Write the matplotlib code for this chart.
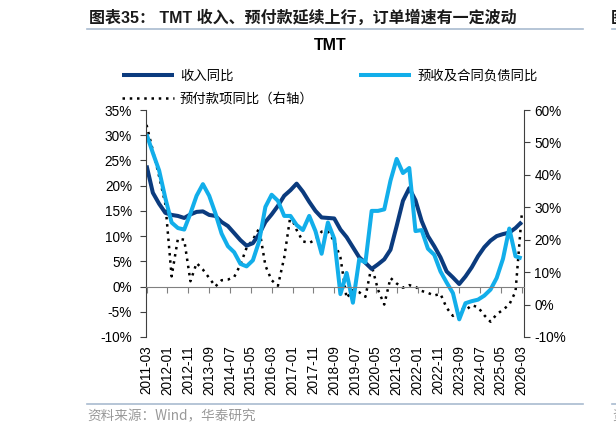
import matplotlib.pyplot as plt
import matplotlib.dates as mdates
from matplotlib.lines import Line2D
import pandas as pd

plt.rcParams['font.family'] = ['Liberation Sans', 'Noto Sans CJK SC', 'DejaVu Sans']

# 季度数据 2011-03 ~ 2026-03
dates = pd.date_range('2011-03-01', '2026-03-01', freq='3MS')

# 收入同比 (%)
revenue = [24.0, 18.6, 16.4, 14.6, 14.2, 14.0, 13.6, 14.3, 14.8, 14.9,
           14.2, 14.0, 12.8, 12.0, 10.6, 9.2, 8.1, 8.6, 10.4, 12.8,
           14.3, 16.0, 18.0, 19.1, 20.4, 18.8, 16.8, 15.0, 13.7, 13.6,
           13.5, 11.3, 9.8, 7.8, 5.8, 4.7, 3.5, 4.4, 5.4, 7.3,
           12.0, 17.0, 19.5, 17.1, 13.0, 10.0, 8.0, 5.8, 3.0, 1.8,
           0.5, 2.0, 3.8, 6.0, 7.8, 9.1, 10.0, 10.4, 10.7, 11.6,
           12.8]

# 预收及合同负债同比 (%)
contract = [30.2, 26.5, 23.0, 17.5, 12.7, 11.6, 11.3, 14.5, 18.0, 20.3,
            18.0, 14.5, 10.5, 8.0, 6.8, 4.5, 4.0, 5.2, 9.0, 15.8,
            18.2, 17.0, 14.0, 14.0, 12.2, 11.2, 14.0, 11.0, 6.5, 12.7,
            9.5, -1.5, 2.7, -3.2, 5.4, 4.8, 15.0, 15.0, 15.3, 21.0,
            25.3, 22.5, 23.5, 11.0, 11.2, 7.5, 6.3, 3.0, 0.8, -1.3,
            -6.5, -3.3, -2.9, -2.6, -1.8, -0.6, 1.7, 5.5, 11.5, 6.0,
            5.6]

# 预付款项同比 (%, 右轴)
prepay = [55.4, 47.5, 39.5, 31.0, 8.7, 20.3, 20.0, 7.2, 12.8, 10.8,
          8.2, 5.6, 7.5, 7.7, 8.5, 12.3, 17.5, 20.0, 23.5, 12.0,
          7.5, 5.8, 14.5, 27.5, 23.0, 19.5, 19.0, 20.0, 22.5, 22.5,
          19.5, 14.5, 2.0, 4.5, 3.8, 2.4, 12.0, 4.6, 0.0, 8.2,
          6.5, 5.2, 6.0, 5.5, 4.2, 3.6, 2.8, 3.3, -1.0, -3.5,
          -1.0, -1.8, -0.2, -0.8, -3.3, -5.3, -3.0, -1.6, 0.0, 4.0,
          27.5]

tick_dates = pd.date_range('2011-03-01', '2026-03-01', freq='10MS')
tick_labels = [d.strftime('%Y-%m') for d in tick_dates]
left_ticks = list(range(-10, 36, 5))
right_ticks = list(range(-10, 61, 10))

dark = '#0B3B7E'
light = '#12AEEA'
spine_c = '#404040'

fig = plt.figure(figsize=(6.16, 4.34), dpi=100)
ax = fig.add_axes([146 / 616, 1 - 337 / 434, 378 / 616, 227 / 434])
ax2 = ax.twinx()

x = mdates.date2num(dates.to_pydatetime())
ax.plot(x, revenue, color=dark, lw=2.9, label='收入同比', solid_capstyle='butt')
ax.plot(x, contract, color=light, lw=2.9, label='预收及合同负债同比', solid_capstyle='butt')
ax2.plot(x, prepay, color='black', lw=1.8, ls=(0, (1, 1.9)), label='预付款项同比（右轴）')

xt = mdates.date2num(tick_dates.to_pydatetime())
ax.set_xlim(xt[0] - 8, xt[-1] + 34)
ax.set_ylim(-10, 35)
ax2.set_ylim(-10, 60)
ax.set_yticks(left_ticks, [f'{v}%' for v in left_ticks])
ax2.set_yticks(right_ticks, [f'{v}%' for v in right_ticks])

for a in (ax, ax2):
    a.spines['top'].set_visible(False)
    a.spines['bottom'].set_visible(False)
ax2.spines['left'].set_visible(False)
ax.spines['right'].set_visible(False)
ax.spines['left'].set_color(spine_c)
ax2.spines['right'].set_color(spine_c)

# 0% 横轴带刻度
ax.spines['bottom'].set_visible(True)
ax.spines['bottom'].set_position(('data', 0))
ax.spines['bottom'].set_color('#808080')
ax.set_xticks(xt)
ax.tick_params(axis='x', direction='out', length=4, color='#808080', labelbottom=False)
ax.tick_params(axis='y', direction='out', length=4, color=spine_c, labelsize=9.8, pad=6)
ax2.tick_params(axis='y', direction='out', length=4, color=spine_c, labelsize=9.8, pad=3.5)

sec = ax.secondary_xaxis('bottom')
sec.set_xticks(xt, tick_labels, rotation=90, fontsize=9.8)
sec.tick_params(length=0, pad=6)
sec.spines['bottom'].set_visible(False)

ax.set_zorder(ax2.get_zorder() + 1)
ax.patch.set_visible(False)

handles = [ax.get_lines()[0], ax2.get_lines()[0], ax.get_lines()[1]]
fig.legend(handles, [h.get_label() for h in handles], ncol=2, frameon=False,
           loc='upper left', bbox_to_anchor=(122 / 616, 1 - 69 / 434),
           prop={'family': ['Noto Sans CJK SC'], 'size': 9.6},
           handlelength=3.9, handletextpad=0.45, columnspacing=3.4,
           labelspacing=0.65, borderpad=0, borderaxespad=0)

fig.text(330 / 616, 1 - 45 / 434, 'TMT', ha='center', va='center',
         fontsize=11.5, fontweight='bold')

# 标题与分隔线
fig.text(89 / 616, 1 - 18 / 434, '图表35： TMT 收入、预付款延续上行，订单增速有一定波动',
         fontsize=11.5, fontweight='bold', va='center', color='#1A1A1A')
fig.text(611 / 616, 1 - 18 / 434, '图', fontsize=11.5, fontweight='bold', va='center',
         color='#1A1A1A', family=['Noto Sans CJK SC'])
line_c = '#A9BBD0'
fig.add_artist(Line2D([87 / 616, 583 / 616], [1 - 29 / 434] * 2, color=line_c, lw=1.2))
fig.add_artist(Line2D([612 / 616, 1], [1 - 29 / 434] * 2, color=line_c, lw=1.2))
fig.add_artist(Line2D([87 / 616, 583 / 616], [1 - 404 / 434] * 2, color=line_c, lw=1.2))
fig.add_artist(Line2D([612 / 616, 1], [1 - 404 / 434] * 2, color=line_c, lw=1.2))

fig.text(87 / 616, 1 - 416 / 434, '资料来源：Wind，华泰研究', fontsize=9.8,
         va='center', color='#999999', family=['Noto Sans CJK SC'])
fig.text(612 / 616, 1 - 416 / 434, '资', fontsize=9.8, va='center', color='#999999',
         family=['Noto Sans CJK SC'])

fig.savefig('out.png', dpi=100)
